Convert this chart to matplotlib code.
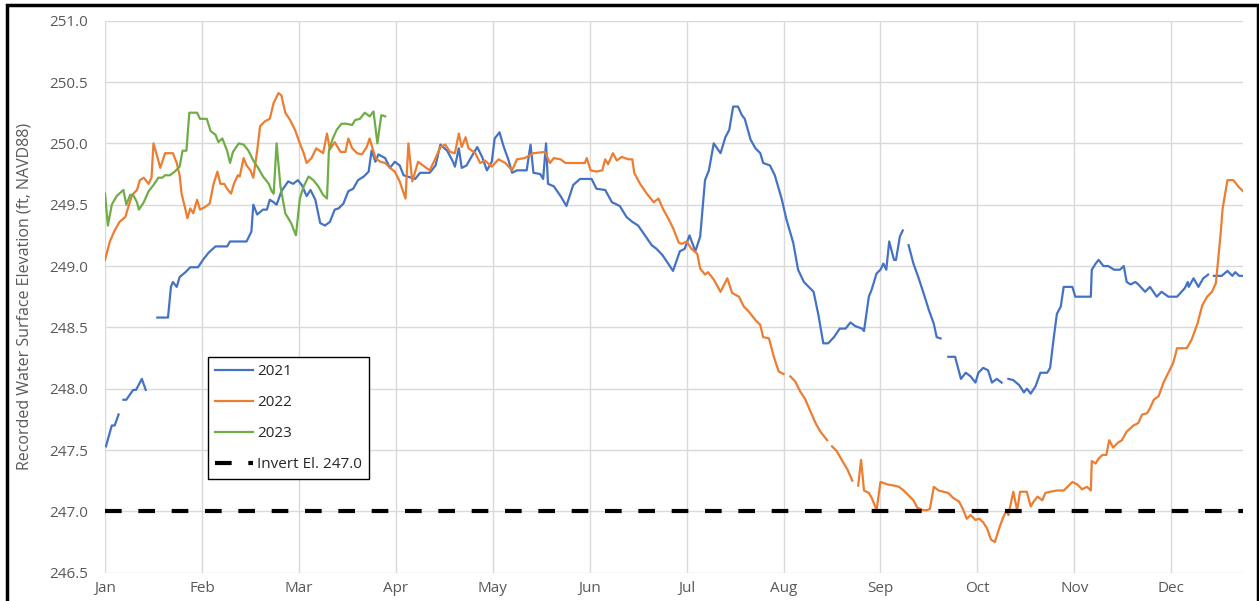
import numpy as np
import matplotlib.pyplot as plt
from matplotlib.patches import Rectangle

nan = np.nan

months = ['Jan', 'Feb', 'Mar', 'Apr', 'May', 'Jun', 'Jul', 'Aug', 'Sep', 'Oct', 'Nov', 'Dec']
invert_el = 247.0

# x = months after Jan 1 (the chart gives every month the same width), nan = missing data
x21 = [0.01, 0.07, 0.10, 0.14, 0.16,
       0.19, 0.22, 0.29, 0.32, 0.38, 0.42, 0.48,
       0.54, 0.65, 0.68, 0.70, 0.74, 0.77, 0.83, 0.88, 0.96, 1.01, 1.07, 1.14, 1.26, 1.29,
       1.46, 1.51, 1.53, 1.57, 1.60, 1.63, 1.67, 1.70, 1.74, 1.77, 1.82, 1.89, 1.94, 1.99,
       2.03, 2.08, 2.12, 2.17, 2.22, 2.27, 2.32, 2.37, 2.41, 2.46, 2.51, 2.56, 2.61, 2.67,
       2.72, 2.75, 2.79, 2.82, 2.89, 2.94, 2.99, 3.04, 3.08, 3.20, 3.25, 3.35, 3.41, 3.46,
       3.53, 3.59, 3.61, 3.65, 3.68, 3.73, 3.78, 3.84, 3.89, 3.94, 3.99, 4.02, 4.07, 4.11,
       4.16, 4.20, 4.25, 4.35, 4.39, 4.42, 4.49, 4.52, 4.55, 4.57, 4.63, 4.70, 4.76, 4.83,
       4.90, 5.02, 5.07, 5.16, 5.23, 5.31, 5.38, 5.44, 5.50, 5.57, 5.64, 5.69, 5.75, 5.81,
       5.86, 5.93, 5.98, 6.03, 6.09, 6.14, 6.19, 6.23, 6.28, 6.35, 6.40, 6.44, 6.48, 6.53,
       6.57, 6.60, 6.66, 6.71, 6.76, 6.79, 6.86, 6.91, 6.98, 7.03, 7.10, 7.15, 7.21, 7.26,
       7.31, 7.36, 7.41, 7.46, 7.52, 7.58, 7.64, 7.69, 7.74, 7.81, 7.83, 7.88, 7.91, 7.96,
       8.00, 8.03, 8.06, 8.09, 8.14, 8.16, 8.20, 8.23, 8.26,
       8.29, 8.34, 8.39, 8.44, 8.50, 8.55, 8.58, 8.62, 8.66,
       8.70, 8.77, 8.83, 8.88, 8.93, 8.98, 9.01, 9.06, 9.11, 9.15, 9.20, 9.25, 9.28,
       9.32, 9.37, 9.43, 9.48, 9.51, 9.55, 9.60, 9.65, 9.72, 9.75, 9.79, 9.82, 9.86, 9.89,
       9.98, 10.01, 10.17, 10.18, 10.22, 10.25, 10.30, 10.35, 10.41, 10.47, 10.51, 10.54,
       10.58, 10.63, 10.66, 10.73, 10.78, 10.85, 10.90, 10.97, 11.06, 11.14, 11.17, 11.18,
       11.23, 11.28, 11.33, 11.38, 11.41,
       11.44, 11.52, 11.58, 11.63, 11.66, 11.70, 11.74]
y21 = [247.53, 247.70, 247.70, 247.79, nan,
       247.91, 247.91, 247.99, 247.99, 248.08, 247.99, nan,
       248.58, 248.58, 248.83, 248.87, 248.83, 248.91, 248.95, 248.99, 248.99, 249.05, 249.11, 249.16, 249.16, 249.20,
       249.20, 249.28, 249.50, 249.42, 249.44, 249.46, 249.46, 249.54, 249.52, 249.50, 249.61, 249.69, 249.67, 249.70,
       249.66, 249.57, 249.62, 249.54, 249.35, 249.33, 249.36, 249.46, 249.47, 249.51, 249.61, 249.63, 249.70, 249.73,
       249.77, 249.94, 249.85, 249.91, 249.88, 249.80, 249.85, 249.82, 249.74, 249.71, 249.76, 249.76, 249.82, 249.99,
       249.94, 249.85, 249.81, 249.96, 249.80, 249.82, 249.89, 249.97, 249.89, 249.78, 249.85, 250.04, 250.09, 249.98,
       249.87, 249.76, 249.78, 249.78, 249.99, 249.76, 249.75, 249.71, 250.00, 249.67, 249.65, 249.57, 249.49, 249.66,
       249.71, 249.71, 249.63, 249.62, 249.52, 249.49, 249.40, 249.36, 249.33, 249.25, 249.17, 249.14, 249.09, 249.02,
       248.96, 249.12, 249.14, 249.25, 249.12, 249.24, 249.70, 249.78, 250.00, 249.92, 250.05, 250.11, 250.30, 250.30,
       250.23, 250.20, 250.03, 249.96, 249.92, 249.84, 249.82, 249.74, 249.55, 249.38, 249.19, 248.97, 248.87, 248.83,
       248.79, 248.60, 248.37, 248.37, 248.42, 248.49, 248.49, 248.54, 248.51, 248.49, 248.47, 248.75, 248.81, 248.94,
       248.97, 249.02, 248.97, 249.20, 249.05, 249.05, 249.24, 249.29, nan,
       249.17, 249.02, 248.91, 248.79, 248.64, 248.53, 248.42, 248.41, nan,
       248.26, 248.26, 248.08, 248.13, 248.10, 248.05, 248.13, 248.17, 248.15, 248.05, 248.08, 248.05, nan,
       248.08, 248.07, 248.03, 247.97, 248.00, 247.96, 248.02, 248.13, 248.13, 248.17, 248.43, 248.61, 248.67, 248.83,
       248.83, 248.75, 248.75, 248.97, 249.02, 249.05, 249.00, 249.00, 248.97, 248.97, 249.00, 248.87,
       248.85, 248.87, 248.85, 248.79, 248.83, 248.75, 248.79, 248.75, 248.75, 248.82, 248.87, 248.83,
       248.90, 248.83, 248.90, 248.93, nan,
       248.92, 248.92, 248.96, 248.92, 248.95, 248.92, 248.92]

x22 = [0.00, 0.05, 0.10, 0.15, 0.21, 0.24, 0.28, 0.33, 0.36, 0.40, 0.45, 0.48, 0.50, 0.54,
       0.57, 0.62, 0.70, 0.74, 0.77, 0.79, 0.83, 0.85, 0.88, 0.91, 0.95, 0.98, 1.03, 1.08,
       1.12, 1.16, 1.19, 1.23, 1.26, 1.30, 1.33, 1.37, 1.39, 1.43, 1.46, 1.50, 1.53, 1.57,
       1.60, 1.65, 1.70, 1.74, 1.79, 1.82, 1.86, 1.91, 1.96, 2.01, 2.05, 2.08, 2.13, 2.18,
       2.25, 2.29, 2.32, 2.37, 2.43, 2.48, 2.51, 2.55, 2.60, 2.65, 2.70, 2.73, 2.79, 2.84,
       2.89, 2.94, 2.99, 3.04, 3.10, 3.13, 3.17, 3.20, 3.23, 3.28, 3.35, 3.41, 3.46, 3.51,
       3.56, 3.61, 3.65, 3.68, 3.72, 3.75, 3.82, 3.87, 3.92, 3.99, 4.06, 4.13, 4.20, 4.25,
       4.33, 4.42, 4.54, 4.59, 4.63, 4.70, 4.75, 4.95, 4.97, 5.01, 5.07, 5.13, 5.16, 5.19,
       5.24, 5.28, 5.33, 5.40, 5.44, 5.46, 5.52, 5.59, 5.66, 5.71, 5.76, 5.81, 5.86, 5.92,
       5.95, 6.00, 6.05, 6.11, 6.14, 6.19, 6.22, 6.28, 6.35, 6.42, 6.47, 6.54, 6.59, 6.64,
       6.71, 6.76, 6.79, 6.85, 6.90, 6.95, 7.00, 7.04,
       7.07, 7.12, 7.17, 7.22, 7.28, 7.33, 7.38, 7.45, 7.48,
       7.50, 7.55, 7.60, 7.66, 7.71, 7.74,
       7.77, 7.80, 7.83, 7.88, 7.91, 7.96, 8.00, 8.07, 8.14, 8.19, 8.24, 8.29, 8.34, 8.38,
       8.44, 8.48, 8.51, 8.55, 8.60, 8.65, 8.70, 8.75, 8.81, 8.85, 8.89, 8.93, 8.98, 9.02,
       9.06, 9.10, 9.14, 9.18, 9.22, 9.26, 9.30, 9.32, 9.37, 9.41, 9.44, 9.51, 9.55, 9.58,
       9.62, 9.67, 9.70, 9.75, 9.82, 9.89, 9.93, 9.98, 10.03, 10.08, 10.13, 10.17, 10.18, 10.22,
       10.25, 10.29, 10.33, 10.36, 10.40, 10.45, 10.49, 10.54, 10.61, 10.66, 10.70, 10.75, 10.78, 10.82,
       10.87, 10.92, 10.97, 11.02, 11.06, 11.16, 11.21, 11.27, 11.32, 11.37, 11.42, 11.46, 11.48, 11.51,
       11.53, 11.58, 11.64, 11.69, 11.74]
y22 = [249.05, 249.20, 249.29, 249.36, 249.40, 249.48, 249.58, 249.62, 249.70, 249.72, 249.67, 249.72, 250.00, 249.89,
       249.80, 249.92, 249.92, 249.84, 249.74, 249.59, 249.46, 249.39, 249.47, 249.43, 249.54, 249.46, 249.48, 249.51,
       249.67, 249.77, 249.67, 249.67, 249.63, 249.59, 249.67, 249.74, 249.73, 249.88, 249.82, 249.78, 249.72, 249.94,
       250.14, 250.18, 250.20, 250.33, 250.41, 250.39, 250.25, 250.19, 250.11, 250.00, 249.92, 249.84, 249.88, 249.96,
       249.92, 250.08, 249.95, 250.01, 249.93, 249.93, 250.04, 249.96, 249.92, 249.91, 249.97, 250.04, 249.88, 249.85,
       249.84, 249.80, 249.77, 249.69, 249.55, 250.00, 249.69, 249.77, 249.85, 249.82, 249.78, 249.88, 249.97, 249.99,
       249.93, 249.92, 250.08, 249.97, 250.05, 249.96, 249.92, 249.84, 249.86, 249.81, 249.87, 249.84, 249.78, 249.87,
       249.88, 249.92, 249.93, 249.84, 249.88, 249.87, 249.84, 249.84, 249.88, 249.78, 249.77, 249.78, 249.87, 249.83,
       249.92, 249.86, 249.89, 249.87, 249.87, 249.76, 249.67, 249.59, 249.52, 249.55, 249.46, 249.39, 249.31, 249.19,
       249.18, 249.20, 249.14, 249.10, 248.98, 248.93, 248.95, 248.89, 248.79, 248.90, 248.78, 248.75, 248.67, 248.63,
       248.56, 248.52, 248.42, 248.41, 248.26, 248.14, 248.12, nan,
       248.10, 248.06, 247.98, 247.92, 247.81, 247.72, 247.65, 247.58, nan,
       247.53, 247.49, 247.42, 247.34, 247.25, nan,
       247.21, 247.42, 247.17, 247.15, 247.11, 247.01, 247.24, 247.22, 247.21, 247.20, 247.17, 247.13, 247.09, 247.03,
       247.01, 247.01, 247.02, 247.20, 247.17, 247.16, 247.15, 247.11, 247.08, 247.02, 246.94, 246.97, 246.93, 246.94,
       246.91, 246.86, 246.77, 246.75, 246.85, 246.94, 247.01, 246.97, 247.16, 247.01, 247.16, 247.16, 247.04, 247.08,
       247.12, 247.09, 247.15, 247.16, 247.17, 247.17, 247.20, 247.24, 247.22, 247.18, 247.20, 247.17, 247.41, 247.39,
       247.43, 247.46, 247.46, 247.58, 247.52, 247.56, 247.58, 247.65, 247.70, 247.72, 247.79, 247.80, 247.84, 247.91,
       247.94, 248.05, 248.13, 248.21, 248.33, 248.33, 248.40, 248.53, 248.68, 248.75, 248.79, 248.86, 249.02, 249.27,
       249.47, 249.70, 249.70, 249.65, 249.61]

x23 = [0.00, 0.03, 0.07, 0.12, 0.19, 0.22, 0.26, 0.29, 0.33, 0.35, 0.40, 0.45, 0.50, 0.55,
       0.59, 0.62, 0.67, 0.72, 0.77, 0.80, 0.84, 0.87, 0.95, 0.98, 1.05, 1.09, 1.14, 1.17,
       1.21, 1.26, 1.29, 1.32, 1.38, 1.43, 1.48, 1.53, 1.58, 1.63, 1.69, 1.72, 1.74, 1.77,
       1.81, 1.86, 1.92, 1.97, 2.01, 2.05, 2.10, 2.15, 2.20, 2.25, 2.29, 2.31, 2.35, 2.39,
       2.44, 2.49, 2.55, 2.58, 2.63, 2.68, 2.73, 2.77, 2.81, 2.85, 2.89]
y23 = [249.59, 249.33, 249.50, 249.57, 249.62, 249.50, 249.58, 249.58, 249.52, 249.46, 249.52, 249.61, 249.66, 249.72,
       249.72, 249.74, 249.74, 249.77, 249.81, 249.94, 249.94, 250.25, 250.25, 250.20, 250.20, 250.10, 250.07, 250.01,
       250.04, 249.94, 249.84, 249.93, 250.00, 249.99, 249.94, 249.86, 249.80, 249.73, 249.67, 249.61, 249.59, 250.00,
       249.65, 249.43, 249.35, 249.25, 249.55, 249.65, 249.73, 249.70, 249.65, 249.58, 249.55, 249.94, 250.04, 250.11,
       250.16, 250.16, 250.15, 250.19, 250.20, 250.25, 250.22, 250.26, 250.00, 250.23, 250.22]

plt.rcParams['font.family'] = ['Open Sans', 'DejaVu Sans']

W, H = 1259, 601
fig = plt.figure(figsize=(W / 100, H / 100), dpi=100)
ax = fig.add_axes([105 / W, 1 - 572.7 / H, (1243 - 105) / W, (572.7 - 20.7) / H])

ax.plot(x21, y21, color='#4472C4', lw=1.6, label='2021')
ax.plot(x22, y22, color='#ED7D31', lw=1.6, label='2022')
ax.plot(x23, y23, color='#70AD47', lw=1.6, label='2023')
ax.plot([0, 11.74], [invert_el, invert_el], color='black', lw=3, dashes=(4, 4),
        label='Invert El. 247.0')

ax.set_xlim(0, 11.74)
ax.set_ylim(246.5, 251.0)
ax.set_xticks(range(12))
ax.set_xticklabels(months)
ax.set_yticks(np.arange(246.5, 251.01, 0.5))
ax.set_yticklabels(['%.1f' % v for v in np.arange(246.5, 251.01, 0.5)])
ax.tick_params(length=0, labelsize=11, colors='#595959')
ax.tick_params(axis='y', pad=12)
ax.tick_params(axis='x', pad=6)
ax.grid(True, color='#d9d9d9', lw=1)
ax.set_axisbelow(True)
for s in ['top', 'bottom', 'left', 'right']:
    ax.spines[s].set_visible(False)

ax.set_ylabel('Recorded Water Surface Elevation (ft, NAVD88)', fontsize=11.5, color='#595959')
ax.yaxis.set_label_coords((33 - 105) / (1243 - 105), 0.5)

leg = ax.legend(loc='upper left', bbox_to_anchor=((208 - 105) / 1138, (572.7 - 357) / 552),
                borderaxespad=0, fontsize=11, frameon=True, fancybox=False, framealpha=1,
                edgecolor='black', handlelength=2.5, handletextpad=0.25, labelspacing=1.05,
                borderpad=0.45)
leg.get_frame().set_linewidth(1.0)
for t in leg.get_texts():
    t.set_color('#262626')

# black frame round the picture
fig.patches.append(Rectangle((7 / W, -0.02), (1257.5 - 7) / W, 1.02 - 5 / H,
                             transform=fig.transFigure, fill=False, ec='black', lw=2.5))

plt.savefig('out.png', dpi=100)
